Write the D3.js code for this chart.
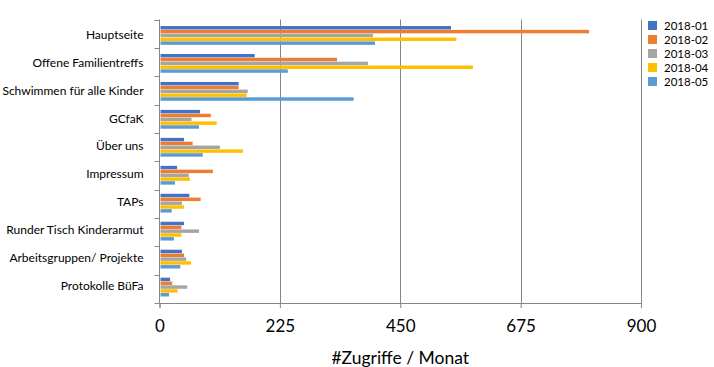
<!DOCTYPE html>
<html><head><meta charset="utf-8">
<script src="https://cdn.jsdelivr.net/npm/d3@7"></script>
<style>body{margin:0;background:#fff}svg{display:block}</style>
</head><body><div id="c"></div>
<script>
const categories = ["Hauptseite","Offene Familientreffs","Schwimmen für alle Kinder","GCfaK","Über uns","Impressum","TAPs","Runder Tisch Kinderarmut","Arbeitsgruppen/ Projekte","Protokolle BüFa"];
const seriesNames = ["2018-01","2018-02","2018-03","2018-04","2018-05"];
const s201801 = [543,176,146,74,44,31,54,44,40,18];
const s201802 = [801,330,146,94,60,98,75,39,44,22];
const s201803 = [397,388,163,58,111,53,40,72,48,50];
const s201804 = [553,584,161,105,154,55,44,39,57,32];
const s201805 = [401,238,361,72,79,27,21,25,37,16];
const seriesValues = [s201801,s201802,s201803,s201804,s201805];
const colors = ["#4472C4","#ED7D31","#A5A5A5","#FFC000","#5B9BD5"];
const xTicks = [0,225,450,675,900];

const W=714,H=367;
const m={l:159.5,r:73,t:19.5,b:64};
const svg=d3.select("#c").append("svg").attr("width",W).attr("height",H);
const font="Lato, 'DejaVu Sans', sans-serif";
const x=d3.scaleLinear().domain([0,900]).range([m.l,W-m.r]);
const y=d3.scaleBand().domain(categories).range([m.t,H-m.b]).paddingInner(0.3).paddingOuter(0.22);
const ySub=d3.scaleBand().domain(seriesNames).range([0,y.bandwidth()]).padding(0.1);

// gridlines
svg.append("g").selectAll("line").data(xTicks.slice(1)).join("line")
 .attr("x1",d=>Math.round(x(d))+0.5).attr("x2",d=>Math.round(x(d))+0.5)
 .attr("y1",m.t).attr("y2",H-m.b).attr("stroke","#868686").attr("stroke-width",1);

// bars
const rows=[];
categories.forEach((c,i)=>seriesNames.forEach((s,j)=>rows.push({c,s,v:seriesValues[j][i],j})));
svg.append("g").selectAll("rect").data(rows).join("rect")
 .attr("x",x(0)+1).attr("y",d=>y(d.c)+ySub(d.s))
 .attr("width",d=>x(d.v)-x(0)).attr("height",ySub.bandwidth())
 .attr("fill",d=>colors[d.j]);

// y axis
const yStep=(H-m.b-m.t)/categories.length;
const yg=svg.append("g");
yg.append("line").attr("x1",m.l).attr("x2",m.l).attr("y1",m.t).attr("y2",H-m.b).attr("stroke","#868686");
yg.selectAll("line.t").data(d3.range(categories.length+1)).join("line").attr("class","t")
 .attr("x1",m.l-5).attr("x2",m.l).attr("y1",i=>Math.round(m.t+i*yStep)+0.5).attr("y2",i=>Math.round(m.t+i*yStep)+0.5).attr("stroke","#868686");
yg.selectAll("text").data(categories).join("text")
 .attr("x",m.l-16).attr("y",d=>y(d)+y.bandwidth()/2-1).attr("dy","0.35em")
 .attr("text-anchor","end").attr("font-family",font).attr("font-size",12).attr("fill","#000").text(d=>d)
 .each(function(){const w=this.getComputedTextLength();const maxW=m.l-17;if(w>maxW){d3.select(this).attr("textLength",maxW).attr("lengthAdjust","spacingAndGlyphs");}});

// x axis
const xa=d3.axisBottom(x).tickValues(xTicks).tickSize(5).tickPadding(12);
const xg=svg.append("g").attr("transform",`translate(0,${H-m.b})`).call(xa);
xg.select(".domain").attr("stroke","#868686");
xg.selectAll(".tick line").attr("stroke","#868686");
xg.selectAll("text").attr("font-family",font).attr("font-size",17).attr("fill","#000");

svg.append("text").attr("x",x(450)).attr("y",H-3).attr("text-anchor","middle")
 .attr("font-family",font).attr("font-size",17.5).attr("fill","#000").text("#Zugriffe / Monat");

// legend
const lg=svg.append("g").attr("transform","translate(648,21)");
seriesNames.forEach((s,i)=>{
 lg.append("rect").attr("x",0).attr("y",i*14).attr("width",9).attr("height",9).attr("fill",colors[i]);
 lg.append("text").attr("x",16).attr("y",i*14+4.5).attr("dy","0.35em").attr("font-family",font)
  .attr("font-size",11.5).attr("fill","#000").text(s);
});
</script></body></html>
